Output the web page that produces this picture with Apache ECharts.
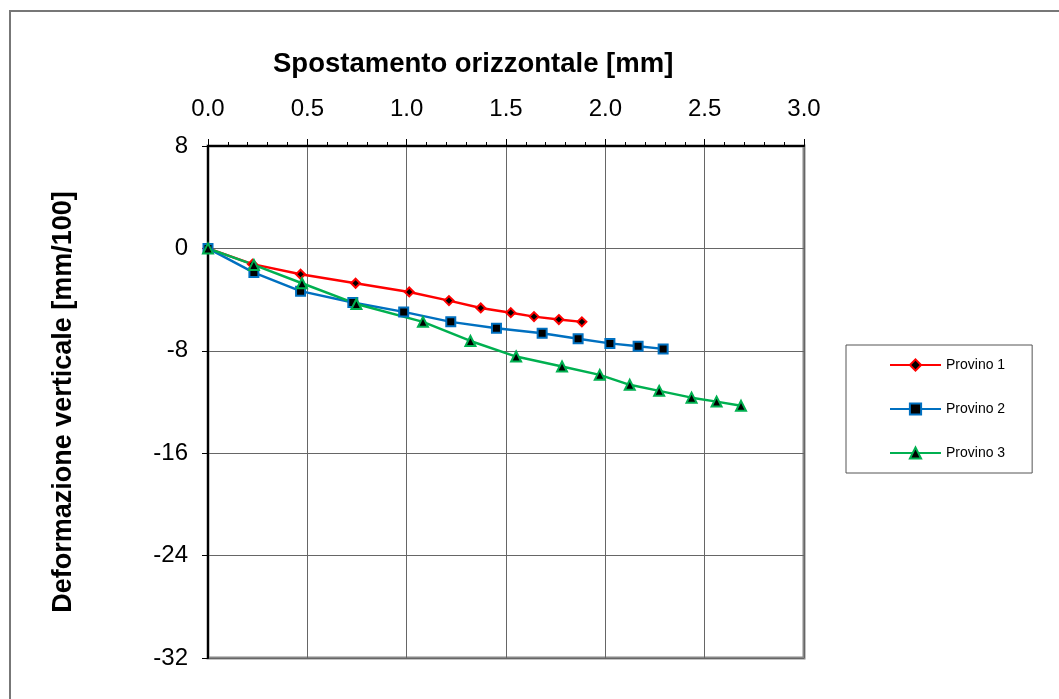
<!DOCTYPE html>
<html>
<head>
<meta charset="utf-8">
<script src="https://cdn.jsdelivr.net/npm/echarts@6/dist/echarts.min.js"></script>
<style>
  html, body { margin: 0; padding: 0; background: #fff; }
  #chart { width: 1059px; height: 699px; }
</style>
</head>
<body>
<div id="chart"></div>
<script>
// letture dal grafico: spostamento orizzontale [mm], deformazione verticale [mm/100]
const xProvino1 = [0, 0.224, 0.466, 0.743, 1.013, 1.213, 1.373, 1.524, 1.641, 1.766, 1.882];
const yProvino1 = [0, -1.23, -2.02, -2.72, -3.40, -4.08, -4.65, -5.02, -5.33, -5.56, -5.74];
const xProvino2 = [0, 0.231, 0.466, 0.729, 0.985, 1.222, 1.452, 1.682, 1.863, 2.023, 2.165, 2.291];
const yProvino2 = [0, -1.89, -3.34, -4.23, -4.96, -5.74, -6.23, -6.63, -7.05, -7.42, -7.64, -7.85];
const xProvino3 = [0, 0.231, 0.473, 0.747, 1.082, 1.321, 1.551, 1.782, 1.972, 2.123, 2.271, 2.434, 2.560, 2.683];
const yProvino3 = [0, -1.29, -2.72, -4.34, -5.74, -7.23, -8.45, -9.23, -9.88, -10.66, -11.13, -11.66, -11.97, -12.30];

const seriesNames = ['Provino 1', 'Provino 2', 'Provino 3'];
const xTicks = [0, 0.5, 1.0, 1.5, 2.0, 2.5, 3.0];
const yTicks = [-32, -24, -16, -8, 0, 8];

function pairs(xs, ys) {
  return xs.map((x, i) => [x, ys[i]]);
}

let chart = echarts.init(document.getElementById('chart'));

let makeSeries = (name, data, color, symbol, size) => ({
  name: name,
  type: 'line',
  data: data,
  symbol: symbol,
  symbolSize: size,
  showSymbol: true,
  lineStyle: { color: color, width: 2.5 },
  itemStyle: { color: '#000', borderColor: color, borderWidth: 2 },
  emphasis: { disabled: true }
});

let option = {
  animation: false,
  backgroundColor: '#fff',
  textStyle: { fontFamily: 'Liberation Sans, Arial, sans-serif', color: '#000' },
  title: {
    text: 'Spostamento orizzontale [mm]',
    left: 273,
    top: 50,
    padding: 0,
    textStyle: { fontSize: 27.5, fontWeight: 'bold', color: '#000', fontFamily: 'Liberation Sans, Arial, sans-serif' }
  },
  graphic: [
    {
      type: 'rect',
      shape: { x: 10, y: 11, width: 1200, height: 1000 },
      style: { fill: 'none', stroke: '#777', lineWidth: 2 },
      silent: true
    }
  ],
  legend: {
    orient: 'vertical',
    left: 846,
    top: 345,
    padding: [13, 27, 13, 43],
    itemGap: 30,
    itemWidth: 51,
    itemHeight: 14,
    backgroundColor: '#fff',
    borderColor: '#555',
    borderWidth: 1,
    textStyle: { fontSize: 14, color: '#000', padding: [0, 0, 0, 0] },
    data: seriesNames
  },
  grid: {
    left: 208,
    top: 146,
    right: 255,
    bottom: 41,
    show: true,
    borderColor: '#888',
    borderWidth: 3,
    backgroundColor: 'transparent'
  },
  xAxis: {
    type: 'value',
    position: 'top',
    min: xTicks[0],
    max: xTicks[xTicks.length - 1],
    interval: 0.5,
    axisLine: { show: true, onZero: false, lineStyle: { color: '#000', width: 2 } },
    axisTick: { show: true, inside: false, length: 7, lineStyle: { color: '#000', width: 1 } },
    minorTick: { show: true, splitNumber: 5, length: 4, lineStyle: { color: '#000', width: 1 } },
    axisLabel: {
      margin: 25,
      fontSize: 24,
      color: '#000',
      formatter: v => v.toFixed(1)
    },
    splitLine: { show: true, lineStyle: { color: '#666', width: 1 } }
  },
  yAxis: {
    type: 'value',
    min: yTicks[0],
    max: yTicks[yTicks.length - 1],
    interval: 8,
    name: 'Deformazione verticale [mm/100]',
    nameLocation: 'middle',
    nameRotate: 90,
    nameGap: 131,
    nameTextStyle: { fontSize: 27, fontWeight: 'bold', color: '#000' },
    axisLine: { show: true, onZero: false, lineStyle: { color: '#000', width: 2 } },
    axisTick: { show: true, inside: false, length: 6, lineStyle: { color: '#000', width: 1 } },
    axisLabel: { margin: 20, fontSize: 24, color: '#000' },
    splitLine: { show: true, lineStyle: { color: '#666', width: 1 } }
  },
  series: [
    makeSeries(seriesNames[0], pairs(xProvino1, yProvino1), '#FF0000', 'diamond', 9),
    makeSeries(seriesNames[1], pairs(xProvino2, yProvino2), '#0070C0', 'rect', 9),
    makeSeries(seriesNames[2], pairs(xProvino3, yProvino3), '#00B050', 'triangle', 10)
  ]
};

chart.setOption(option);
</script>
</body>
</html>
